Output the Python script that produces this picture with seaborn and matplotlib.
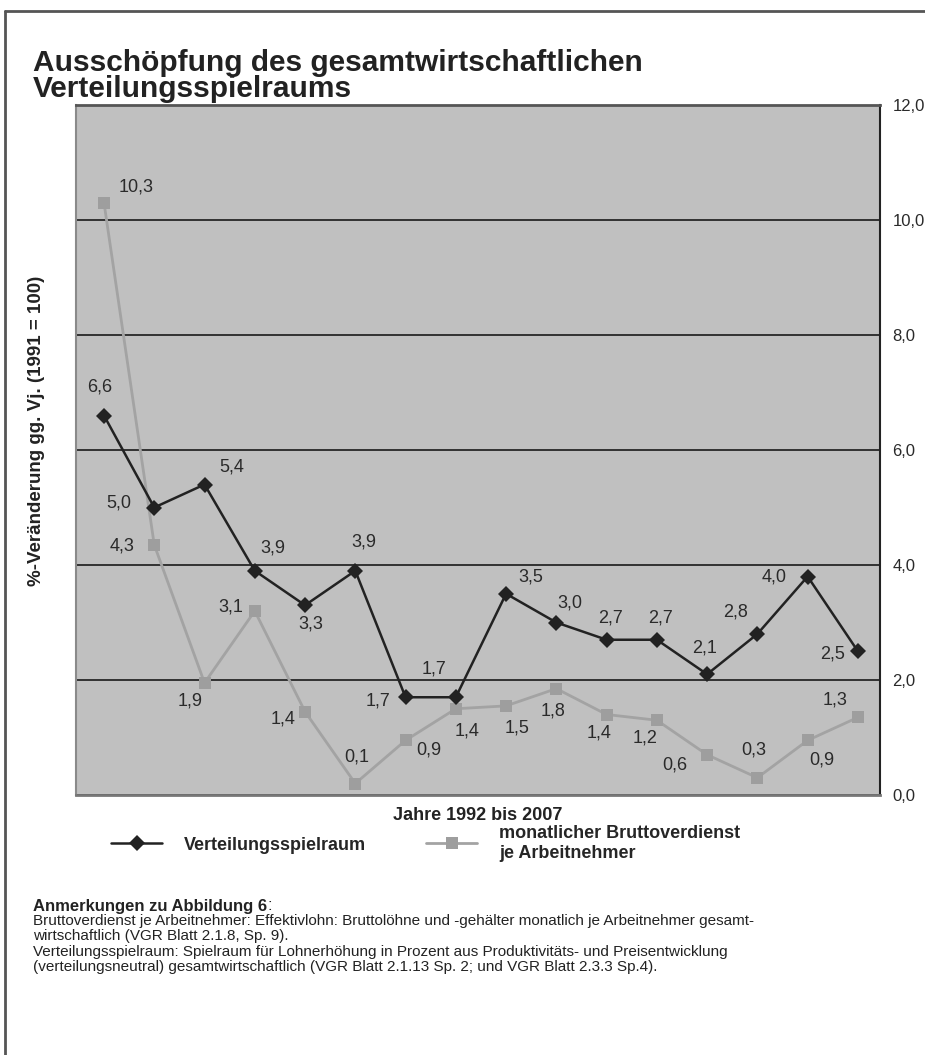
"""
Ausschöpfung des gesamtwirtschaftlichen Verteilungsspielraums, 1992-2007
"""
import matplotlib
matplotlib.use('Agg')
import matplotlib.pyplot as plt
import seaborn as sns
import pandas as pd
from matplotlib.lines import Line2D

years = list(range(1992, 2008))
spielraum = [6.6, 5.0, 5.4, 3.9, 3.3, 3.9, 1.7, 1.7, 3.5, 3.0, 2.7, 2.7, 2.1, 2.8, 3.8, 2.5]
brutto = [10.3, 4.35, 1.95, 3.2, 1.45, 0.2, 0.95, 1.5, 1.55, 1.85, 1.4, 1.3, 0.7, 0.3, 0.95, 1.35]
spielraum_labels = ['6,6', '5,0', '5,4', '3,9', '3,3', '3,9', '1,7', '1,7',
                    '3,5', '3,0', '2,7', '2,7', '2,1', '2,8', '4,0', '2,5']
brutto_labels = ['10,3', '4,3', '1,9', '3,1', '1,4', '0,1', '0,9', '1,4',
                 '1,5', '1,8', '1,4', '1,2', '0,6', '0,3', '0,9', '1,3']
y_ticks = [0, 2, 4, 6, 8, 10, 12]

# label offsets (pixels) relative to each point
spielraum_off = [(-4, 29), (-35, 4), (27, 17), (18, 23), (6, -19), (9, 29), (-28, -4), (-22, 28),
                 (25, 17), (14, 20), (4, 22), (4, 22), (-3, 26), (-22, 22), (-34, 0), (-25, -3)]
brutto_off = [(32, 16), (-32, -1), (-14, -18), (-24, 4), (-22, -7), (1, 26), (23, -10), (11, -22),
              (11, -22), (-3, -22), (-8, -18), (-12, -18), (-32, -10), (-4, 28), (14, -20), (-23, 17)]

df = pd.DataFrame({'Jahr': years, 'Verteilungsspielraum': spielraum, 'Brutto': brutto})

sns.set_style('white')
plt.rcParams['font.family'] = ['Liberation Sans', 'DejaVu Sans']

fig = plt.figure(figsize=(9.25, 10.55), dpi=100)
ax = fig.add_axes([76 / 925, 1 - 795 / 1055, 804 / 925, 690 / 1055])
ax.set_facecolor('#c0c0c0')

sns.lineplot(data=df, x='Jahr', y='Brutto', ax=ax, color='#a3a3a3', lw=2,
             marker='s', markersize=8, markeredgewidth=0, markerfacecolor='#9e9e9e')
sns.lineplot(data=df, x='Jahr', y='Verteilungsspielraum', ax=ax, color='#222222', lw=1.8,
             marker='D', markersize=8.5, markeredgewidth=0, markerfacecolor='#222222')

for x, y, lab, off in zip(years, spielraum, spielraum_labels, spielraum_off):
    ax.annotate(lab, (x, y), xytext=off, textcoords='offset pixels',
                ha='center', va='center', fontsize=13, color='#2a2a2a')
for x, y, lab, off in zip(years, brutto, brutto_labels, brutto_off):
    ax.annotate(lab, (x, y), xytext=off, textcoords='offset pixels',
                ha='center', va='center', fontsize=13, color='#2a2a2a')

ax.set_xlim(years[0] - 0.557, years[-1] + 0.44)
ax.set_ylim(0, 12)
ax.set_xticks([])
ax.yaxis.tick_right()
ax.set_yticks(y_ticks)
ax.set_yticklabels([f'{t:.1f}'.replace('.', ',') for t in y_ticks], fontsize=12, color='#2a2a2a')
ax.tick_params(axis='y', length=0, pad=9)
ax.grid(axis='y', color='#1a1a1a', lw=1.2)
ax.set_axisbelow(True)
ax.set_xlabel('Jahre 1992 bis 2007', fontsize=13, fontweight='bold', labelpad=9, color='#222')
ax.set_ylabel('')

for side, c, w in [('left', '#8a8a8a', 1.5), ('bottom', '#777777', 2),
                   ('top', '#555555', 2), ('right', '#222222', 1.5)]:
    ax.spines[side].set_color(c)
    ax.spines[side].set_linewidth(w)

fig.text(37 / 925, 1 - 431 / 1055, '%-Veränderung gg. Vj. (1991 = 100)', rotation=90,
         ha='center', va='center', fontsize=13.5, fontweight='bold', color='#222')

fig.text(33 / 925, 1 - 49 / 1055, 'Ausschöpfung des gesamtwirtschaftlichen\nVerteilungsspielraums',
         ha='left', va='top', fontsize=21.5, fontweight='bold', linespacing=0.9, color='#222')

handles = [Line2D([], [], color='#222222', lw=1.8, marker='D', markersize=8.5, markeredgewidth=0),
           Line2D([], [], color='#a3a3a3', lw=2, marker='s', markersize=8, markeredgewidth=0,
                  markerfacecolor='#9e9e9e')]
ax.legend(handles=handles,
          labels=['Verteilungsspielraum', 'monatlicher Bruttoverdienst\nje Arbeitnehmer'],
          loc='upper left', bbox_to_anchor=(111 / 925, 1 - 825 / 1055),
          bbox_transform=fig.transFigure, ncol=2, frameon=False,
          prop={'weight': 'bold', 'size': 13}, handlelength=2.85, handletextpad=1.2,
          columnspacing=3.3, borderpad=0, borderaxespad=0, labelspacing=0.2)

head = fig.text(33 / 925, 1 - 906 / 1055, 'Anmerkungen zu Abbildung 6', ha='left', va='center',
                fontsize=12, fontweight='bold', color='#222')
fig.canvas.draw()
bb = head.get_window_extent()
fig.text(bb.x1 / fig.bbox.width, 1 - 906 / 1055, ':', ha='left', va='center',
         fontsize=12, color='#222')
notes = ('Bruttoverdienst je Arbeitnehmer: Effektivlohn: Bruttolöhne und -gehälter monatlich je Arbeitnehmer gesamt-\n'
         'wirtschaftlich (VGR Blatt 2.1.8, Sp. 9).\n'
         'Verteilungsspielraum: Spielraum für Lohnerhöhung in Prozent aus Produktivitäts- und Preisentwicklung\n'
         '(verteilungsneutral) gesamtwirtschaftlich (VGR Blatt 2.1.13 Sp. 2; und VGR Blatt 2.3.3 Sp.4).')
fig.text(33 / 925, 1 - 914 / 1055, notes, ha='left', va='top', fontsize=11,
         linespacing=1.12, color='#222')

# outer frame (top and left edges)
fig.add_artist(Line2D([5 / 925, 1], [1 - 11 / 1055] * 2, transform=fig.transFigure, color='#555', lw=2))
fig.add_artist(Line2D([5 / 925] * 2, [0, 1 - 11 / 1055], transform=fig.transFigure, color='#555', lw=2))

fig.savefig('out.png', dpi=100)
